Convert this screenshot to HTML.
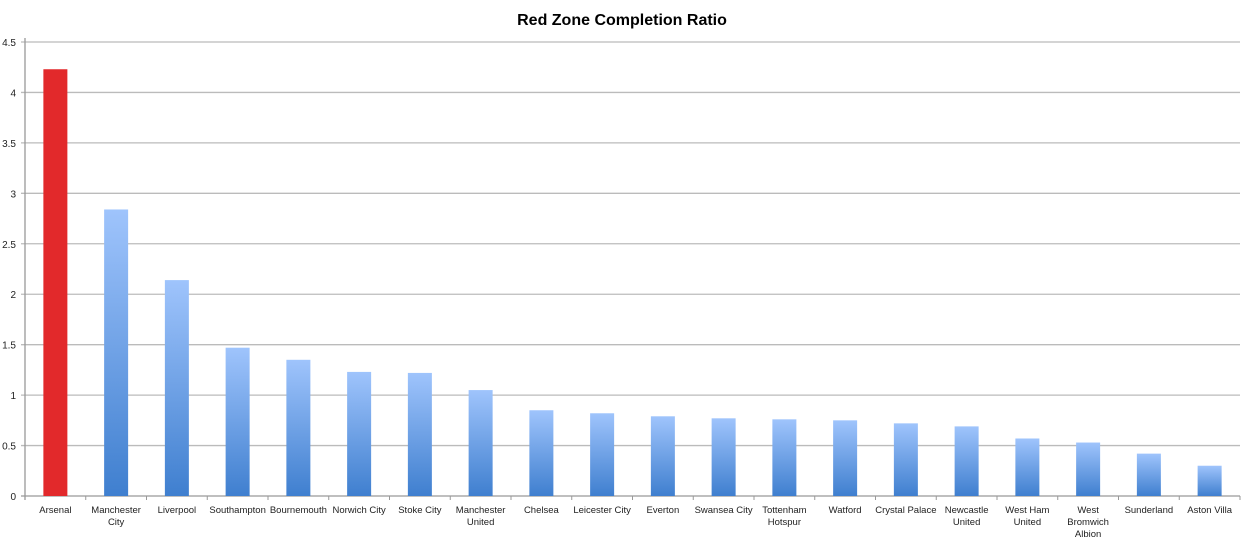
<!DOCTYPE html>
<html><head><meta charset="utf-8"><style>
body{margin:0;background:#fff;font-family:"Liberation Sans",sans-serif}
</style></head><body>
<svg id="c" width="1245" height="542">
<defs><linearGradient id="bg" x1="0" y1="0" x2="0" y2="1"><stop offset="0" stop-color="#9fc4fc"/><stop offset="1" stop-color="#3f7fcf"/></linearGradient></defs>
<text x="622" y="25" text-anchor="middle" font-size="16" font-weight="bold" fill="#000">Red Zone Completion Ratio</text>
</svg>
<script>
const categories=["Arsenal","Manchester|City","Liverpool","Southampton","Bournemouth","Norwich City","Stoke City","Manchester|United","Chelsea","Leicester City","Everton","Swansea City","Tottenham|Hotspur","Watford","Crystal Palace","Newcastle|United","West Ham|United","West|Bromwich|Albion","Sunderland","Aston Villa"];
const values=[4.23,2.84,2.14,1.47,1.35,1.23,1.22,1.05,0.85,0.82,0.79,0.77,0.76,0.75,0.72,0.69,0.57,0.53,0.42,0.30];
const ticks=[0,0.5,1,1.5,2,2.5,3,3.5,4,4.5];
const svg=document.getElementById('c');const NS='http://www.w3.org/2000/svg';
const x0=25,x1=1240,y0=496,y1=42,ymax=4.5;
const bw=(x1-x0)/categories.length;
const y=v=>y0-(v/ymax)*(y0-y1);
function mk(t,a){const e=document.createElementNS(NS,t);for(const k in a)e.setAttribute(k,a[k]);svg.appendChild(e);return e;}
ticks.forEach(t=>{
 const l=mk('line',{x1:x0-4,x2:x1,y1:y(t),y2:y(t),stroke:t===0?'#999':'#bbb','stroke-width':1.3});
 
 
 const tx=mk('text',{x:16,y:y(t)+4,'text-anchor':'end','font-size':10,fill:'#222'});tx.textContent=String(t);
 
 
});
const ax=mk('line',{x1:x0,x2:x0,y1:y1-4,y2:y0+4,stroke:'#999','stroke-width':1.3});


categories.forEach((c,i)=>{
 const cx=x0+bw*(i+0.5);
 const r=mk('rect',{x:cx-12,y:y(values[i]),width:24,height:y0-y(values[i]),fill:i===0?'#e2292b':'url(#bg)'});
 
 
 const tk=mk('line',{x1:x0+bw*(i+1),x2:x0+bw*(i+1),y1:y0,y2:y0+4,stroke:'#999'});
 
 
 c.split('|').forEach((p,j)=>{
  const t=mk('text',{x:cx,y:513+j*12,'text-anchor':'middle','font-size':9.5,fill:'#222'});t.textContent=p;
  
  
 });
});
</script>
</body></html>
